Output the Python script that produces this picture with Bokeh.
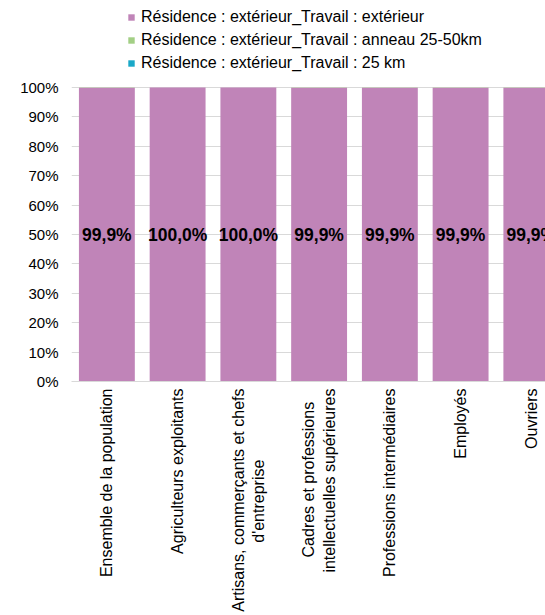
import math
from bokeh.plotting import figure
from bokeh.models import (Range1d, FixedTicker, ColumnDataSource, Legend, LegendItem,
                          CustomJSTickFormatter)
from bokeh.core.properties import value
from bokeh.embed import file_html
from bokeh.resources import INLINE

NB = "\u00a0"
categories = [
    "Ensemble de la population",
    "Agriculteurs exploitants",
    "Artisans, commerçants et chefs\nd'entreprise" + NB * 16,
    "Cadres et professions" + NB * 3 + "\nintellectuelles supérieures",
    "Professions intermédiaires",
    "Employés",
    "Ouvriers",
]
series_names = [
    "Résidence : extérieur_Travail : extérieur",
    "Résidence : extérieur_Travail : anneau 25-50km",
    "Résidence : extérieur_Travail : 25 km",
]
exterieur = [99.9, 100.0, 100.0, 99.9, 99.9, 99.9, 99.9]
anneau = [0.1, 0.0, 0.0, 0.1, 0.1, 0.1, 0.1]
km25 = [0.0, 0.0, 0.0, 0.0, 0.0, 0.0, 0.0]
y_ticks = [0, 10, 20, 30, 40, 50, 60, 70, 80, 90, 100]

colors = ["#C084B8", "#A3CF85", "#19A8C8"]
FONT = "Liberation Sans"

xs = [i + 0.5 for i in range(len(categories))]
src = ColumnDataSource(dict(
    x=xs, ext=exterieur, ann=anneau, k25=km25,
    lbl=[("%.1f" % v).replace(".", ",") + "%" for v in exterieur],
    ly=[50] * len(xs),
))

# frame spans from the top of the page to the x axis; 100% sits 87px below the top
p = figure(width=545, height=615, output_backend="svg", toolbar_location=None,
           x_range=Range1d(0, 6.70), y_range=Range1d(0, 100 * 381 / 294),
           min_border_left=71, min_border_right=0, min_border_top=0,
           min_border_bottom=234, outline_line_color=None)

rs = p.vbar_stack(["ext", "ann", "k25"], x="x", width=0.79, source=src,
                  color=colors, line_color=None)

p.text(x="x", y="ly", text="lbl", source=src, text_align="center",
       text_baseline="middle", text_font=value(FONT), text_font_size="17.5px",
       text_font_style="bold", text_color="#000000")

legend = Legend(items=[LegendItem(label=n, renderers=[r]) for n, r in zip(series_names, rs)],
                location=(56, 308), orientation="vertical", padding=0, margin=0,
                spacing=3, label_height=20, glyph_height=8, glyph_width=8,
                label_standoff=6, border_line_alpha=0, background_fill_alpha=0,
                label_text_font=FONT, label_text_font_size="16px",
                label_text_color="#000000")
p.add_layout(legend, "center")

p.xgrid.grid_line_color = None
p.ygrid.grid_line_color = "#D9D9D9"
p.yaxis.ticker = FixedTicker(ticks=y_ticks)
p.ygrid.ticker = FixedTicker(ticks=y_ticks)
p.yaxis.formatter = CustomJSTickFormatter(code="return tick.toFixed(0) + '%';")
p.yaxis.axis_line_color = None
p.yaxis.major_tick_line_color = None
p.yaxis.major_tick_out = 0
p.yaxis.minor_tick_line_color = None
p.yaxis.minor_tick_out = 0
p.yaxis.major_label_standoff = 13
p.yaxis.major_label_text_font = FONT
p.yaxis.major_label_text_font_size = "15px"
p.yaxis.major_label_text_color = "#000000"

p.xaxis.ticker = FixedTicker(ticks=xs)
p.xaxis.major_label_overrides = {x: c for x, c in zip(xs, categories)}
p.xaxis.major_label_orientation = math.pi / 2
p.xaxis.axis_line_color = "#D9D9D9"
p.xaxis.major_tick_line_color = None
p.xaxis.major_tick_out = 0
p.xaxis.minor_tick_line_color = None
p.xaxis.minor_tick_out = 0
p.xaxis.major_label_standoff = 7
p.xaxis.major_label_text_font = FONT
p.xaxis.major_label_text_font_size = "16px"
p.xaxis.major_label_text_color = "#000000"

open("out.html", "w").write(file_html(p, INLINE))
